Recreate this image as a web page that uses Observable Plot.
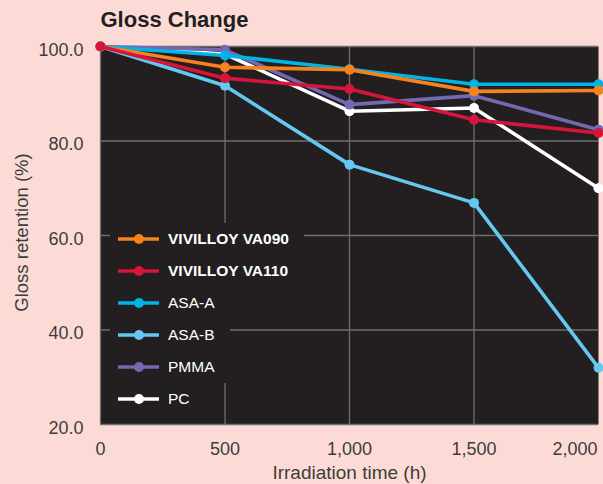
<!DOCTYPE html>
<html>
<head>
<meta charset="utf-8">
<script src="https://cdn.jsdelivr.net/npm/d3@7"></script>
<script src="https://cdn.jsdelivr.net/npm/@observablehq/plot@0.6"></script>
<style>
  html, body { margin: 0; padding: 0; background: #fcdbd7; }
  #wrap { position: relative; width: 603px; height: 484px; overflow: hidden; background: #fcdbd7; }
  #legend { position: absolute; left: 110px; top: 223px; font-family: "Liberation Sans", Arial, sans-serif; }
  .row { display: flex; align-items: center; height: 32px; width: fit-content; background: #231f20; padding: 0 15px 0 8px; color: #fff; font-size: 15.5px; }
  .row svg { margin-right: 9px; }
</style>
</head>
<body>
<div id="wrap"><div id="chart"></div><div id="legend"></div></div>
<script>
const hours = [0, 500, 1000, 1500, 2000];
const names = ["VIVILLOY VA090", "VIVILLOY VA110", "ASA-A", "ASA-B", "PMMA", "PC"];
const colors = ["#f5821f", "#d7143a", "#00b4e6", "#64c8f0", "#7369b2", "#ffffff"];
const boldNames = [true, true, false, false, false, false];
const va090 = [100, 95.6, 95.1, 90.5, 90.7];
const va110 = [100, 93.3, 91.0, 84.5, 81.7];
const asaA = [100, 98.1, 95.2, 92.0, 92.0];
const asaB = [100, 91.7, 75.0, 66.9, 32.0];
const pmma = [100, 99.3, 87.7, 89.6, 82.4];
const pc = [100, 98.4, 86.3, 87.0, 70.0];
const yTicks = [20, 40, 60, 80, 100];
const xTicks = [0, 500, 1000, 1500, 2000];
const title = "Gloss Change";
const xLabel = "Irradiation time (h)";
const yLabel = "Gloss retention (%)";

const values = [va090, va110, asaA, asaB, pmma, pc];
const series = names.map((name, i) => ({name, color: colors[i], bold: boldNames[i],
  rows: hours.map((h, j) => ({name, hours: h, value: values[i][j]}))}));

// drawing order: PC first ... VA110 last (on top)
const drawOrder = [5, 4, 3, 2, 0, 1];
const seriesMarks = drawOrder.flatMap(i => [
  Plot.line(series[i].rows, {x: "hours", y: "value", stroke: series[i].color, strokeWidth: 3.6}),
  Plot.dot(series[i].rows, {x: "hours", y: "value", fill: series[i].color, r: 5, stroke: null})
]);

const gridStyle = {stroke: "#6e6e6e", strokeOpacity: 1, strokeWidth: 1.3};
const tickText = {fontSize: 18, fill: "#3d3d3d", tickSize: 0};

const chart = Plot.plot({
  width: 599,
  height: 484,
  marginTop: 46,
  marginBottom: 60,
  marginLeft: 100,
  marginRight: 1,
  style: {fontFamily: "'Liberation Sans', Arial, sans-serif", background: "transparent", overflow: "visible"},
  x: {domain: [0, 2000]},
  y: {domain: [20, 100]},
  marks: [
    Plot.frame({fill: "#231f20"}),
    Plot.gridY(yTicks, gridStyle),
    Plot.gridX(xTicks.slice(0, 4), gridStyle),
    ...seriesMarks,
    Plot.axisY(yTicks, {...tickText, tickPadding: 17, dy: 3.5, tickFormat: d3.format(".1f"), label: null}),
    Plot.axisX(xTicks.slice(0, 4), {...tickText, tickPadding: 18, tickFormat: d3.format(","), label: null}),
    Plot.axisX(xTicks.slice(4), {...tickText, tickPadding: 18, textAnchor: "end", dx: -1, tickFormat: d3.format(","), label: null}),
    Plot.text([xLabel], {frameAnchor: "bottom", textAnchor: "middle", dy: 48, lineAnchor: "middle", fontSize: 19, fill: "#3d3d3d"}),
    Plot.text([yLabel], {frameAnchor: "left", textAnchor: "middle", rotate: -90, dx: -78, dy: -3, lineAnchor: "middle", fontSize: 18.5, fill: "#3d3d3d"}),
    Plot.text([title], {frameAnchor: "top-left", textAnchor: "start", dy: -27, lineAnchor: "middle", fontSize: 22, fontWeight: "bold", fill: "#231f20"})
  ]
});
document.getElementById("chart").appendChild(chart);

const legend = document.getElementById("legend");
series.forEach(s => {
  const row = document.createElement("div");
  row.className = "row";
  row.innerHTML = `<svg width="41" height="12"><line x1="0" y1="6" x2="41" y2="6" stroke="${s.color}" stroke-width="3.6"/><circle cx="21" cy="6" r="5" fill="${s.color}"/></svg><span style="font-weight:${s.bold ? "bold" : "normal"}">${s.name}</span>`;
  legend.appendChild(row);
});
</script>
</body>
</html>
